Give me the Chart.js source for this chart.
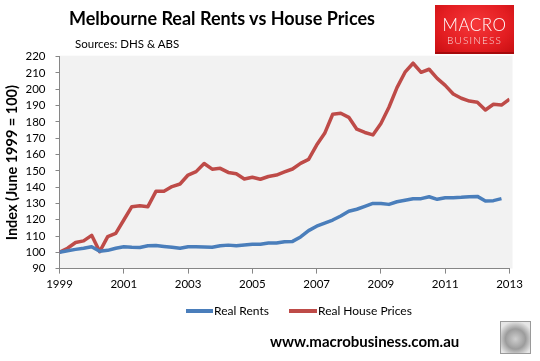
<!DOCTYPE html>
<html>
<head>
<meta charset="utf-8">
<script src="https://cdn.jsdelivr.net/npm/chart.js@4.4.1/dist/chart.umd.min.js"></script>
<style>
  body { margin: 0; background: #fff; }
  #wrap { position: relative; width: 540px; height: 361px; overflow: hidden; font-family: Lato, "Open Sans", sans-serif; color: #000; }
  #chart { position: absolute; left: 0; top: 0; }
  .abs { position: absolute; white-space: nowrap; }
  #title { left: 69px; top: 7px; font-size: 18px; font-weight: bold; }
  #sub { left: 75px; top: 37px; font-size: 11.5px; }
  #logo { left: 435px; top: 5px; width: 79px; height: 49px; background: radial-gradient(ellipse at 50% 40%, #f5383a 0%, #e41e22 60%, #c80f12 100%); border-bottom: 2px solid #a60a0c; box-sizing: border-box; color: #fff; text-align: center; }
  #logo .m { position: absolute; left: 0; right: 0; top: 9px; font-size: 17px; font-weight: 300; letter-spacing: 0.5px; }
  #logo .b { position: absolute; left: 0; right: 0; top: 29px; font-size: 10px; font-weight: 300; letter-spacing: 1.2px; color: #f6dede; }
  .leg { top: 303px; font-size: 12px; }
  .swatch { position: absolute; height: 4px; top: 309px; }
  #footer { left: 270px; top: 332px; font-size: 15px; font-weight: bold; }
  #wolf { left: 500px; top: 321px; width: 31px; height: 33px; box-sizing: border-box; border: 1px solid #9a9a9a; background: radial-gradient(circle at 50% 55%, #cfcfcf 0%, #9c9c9c 45%, #e6e6e6 80%); }
</style>
</head>
<body>
<div id="wrap">
  <canvas id="chart" width="540" height="361"></canvas>
  <div class="abs" id="title">Melbourne Real Rents vs House Prices</div>
  <div class="abs" id="sub">Sources: DHS &amp; ABS</div>
  <div class="abs" id="logo"><div class="m">MACRO</div><div class="b">BUSINESS</div></div>
  <div class="swatch" style="left:186px;width:27px;background:#4a7ebb"></div>
  <div class="abs leg" style="left:214px">Real Rents</div>
  <div class="swatch" style="left:289px;width:28px;background:#be4b48"></div>
  <div class="abs leg" style="left:318px">Real House Prices</div>
  <div class="abs" id="footer">www.macrobusiness.com.au</div>
  <div class="abs" id="wolf"></div>
</div>
<script>
// quarterly, index June 1999 = 100
const quarters = [];
for (let i = 0; i < 57; i++) quarters.push(1999 + i * 0.25);

const realRents = [
  100, 101, 101.8, 102.5, 103.4, 100.6, 101.2, 102.5, 103.4, 103.1,
  103, 104, 104.2, 103.6, 103.1, 102.5, 103.4, 103.4, 103.3, 103.1,
  104, 104.4, 104, 104.5, 105, 105, 105.7, 105.7, 106.5, 106.7,
  109.4, 113.3, 116, 117.9, 119.8, 122.3, 125.2, 126.4, 128.2, 130,
  130, 129.4, 131, 131.9, 132.9, 132.9, 134.1, 132.5, 133.5, 133.5,
  133.7, 134.1, 134.3, 131.5, 131.7, 132.9, null
];
const realHousePrices = [
  100, 102.5, 106, 107, 110.4, 100.4, 109.6, 111.6, 119.8, 128,
  128.6, 128, 137.4, 137.4, 140.3, 141.9, 147.4, 149.5, 154.5, 151,
  151.5, 149, 148.2, 145, 146, 144.8, 146.5, 147.4, 149.3, 151.1,
  154.6, 157, 165.8, 173, 184.7, 185.3, 182.8, 175.5, 173.5, 172,
  179, 189, 201, 210.5, 216, 210.4, 212.3, 206.7, 202.4, 197.1,
  194.5, 192.8, 192.1, 187.3, 190.8, 190.3, 194
];
const yMin = 90, yMax = 220, yStep = 10;
const xMin = 1999, xMax = 2013, xStep = 2;

const toPoints = vals => vals.map((v, i) => ({ x: quarters[i], y: v }));

const plotBg = {
  id: "plotBg",
  beforeDraw(chart) {
    const { ctx, chartArea: a } = chart;
    ctx.save();
    ctx.fillStyle = "#f2f2f2";
    ctx.fillRect(a.left, a.top - 1, a.right - a.left + 3, a.bottom - a.top + 1);
    ctx.restore();
  },
};

const tickFont = { family: "Lato, 'Open Sans', sans-serif", size: 11.5 };

new Chart(document.getElementById("chart").getContext("2d"), {
  type: "line",
  data: {
    datasets: [
      { label: "Real Rents", data: toPoints(realRents), borderColor: "#4a7ebb", borderWidth: 3.5 },
      { label: "Real House Prices", data: toPoints(realHousePrices), borderColor: "#be4b48", borderWidth: 3.5 },
    ],
  },
  options: {
    responsive: false,
    animation: false,
    devicePixelRatio: 1,
    elements: { point: { radius: 0 }, line: { tension: 0, borderCapStyle: "butt", borderJoinStyle: "round" } },
    layout: { padding: { left: 0, right: 30.5, top: 56.7, bottom: 72.4 } },
    plugins: { legend: { display: false }, tooltip: { enabled: false } },
    scales: {
      x: {
        type: "linear",
        min: xMin,
        max: xMax,
        afterFit: s => { s.height = 20; },
        ticks: { stepSize: xStep, autoSkip: false, color: "#000", font: tickFont, padding: 4, maxRotation: 0, callback: v => String(v) },
        grid: { drawOnChartArea: false, drawTicks: true, tickLength: 5, color: "#868686" },
        border: { color: "#868686", width: 1 },
      },
      y: {
        min: yMin,
        max: yMax,
        afterFit: s => { s.width = 59.5; },
        ticks: { stepSize: yStep, autoSkip: false, color: "#000", font: tickFont, padding: 10 },
        grid: { drawOnChartArea: false, drawTicks: true, tickLength: 4, color: "#868686" },
        border: { color: "#868686", width: 1 },
        title: {
          display: true,
          text: "Index (June 1999 = 100)",
          color: "#000",
          font: { family: "Lato, 'Open Sans', sans-serif", size: 14.5, weight: "bold" },
          padding: { top: 4, bottom: 0 },
        },
      },
    },
  },
  plugins: [plotBg],
});
</script>
</body>
</html>
